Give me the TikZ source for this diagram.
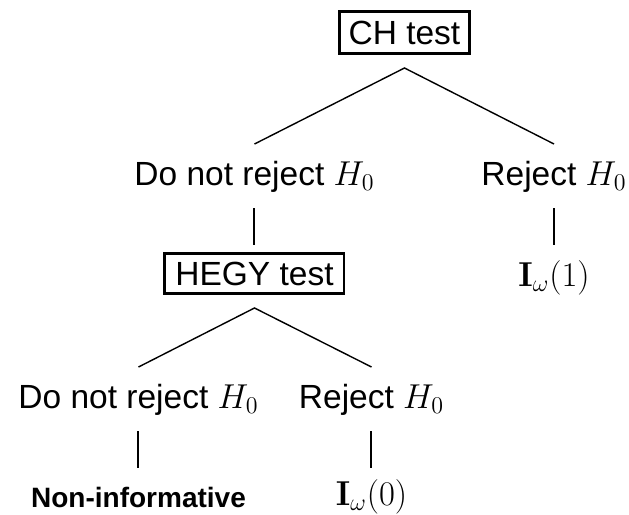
\documentclass[tikz,border=0pt]{standalone}
\usepackage[no-math]{fontspec}
\setmainfont{Liberation Sans}
\usepackage{tikz}
\usetikzlibrary{calc}

\tikzset{
  testbox/.style={draw, line width=1.3pt, inner sep=0pt},
  outcome/.style={inner sep=0pt, anchor=base},
  branch/.style={line width=0.7pt},
  stem/.style={line width=1pt},
}

\begin{document}
\begin{tikzpicture}[x=0.5pt,y=-0.5pt,font=\fontsize{16.75}{20}\selectfont]
  \useasboundingbox (0,0) rectangle (629,515);
  % first test
  \node[testbox,minimum width=65.2pt,minimum height=21.2pt] (ch) at (404.5,32.5) {CH test};
  \node[outcome] (dnr1) at (254.5,185) {Do not reject $H_0$};
  \node[outcome] (rej1) at (554,185) {Reject $H_0$};
  \coordinate (chfork) at ([yshift=-6.5pt]ch.south);
  \draw[branch] ([yshift=20.5pt]dnr1.base) -- (chfork) -- ([yshift=20.5pt]rej1.base);
  % second test
  \node[testbox,minimum width=89.7pt,minimum height=20.2pt] (hegy) at (254.5,273.5) {HEGY test};
  \node[outcome] (iw1) at (554,286) {$\mathbf{I}_\omega(1)$};
  \draw[stem] ([yshift=-11.5pt]dnr1.base) -- ([yshift=3.5pt]hegy.north);
  \draw[stem] ([yshift=-11.5pt]rej1.base) -- ([yshift=20.5pt]iw1.base);
  \node[outcome] (dnr2) at (138.5,408) {Do not reject $H_0$};
  \node[outcome] (rej2) at (371.5,408) {Reject $H_0$};
  \coordinate (hegyfork) at ([yshift=-6.5pt]hegy.south);
  \draw[branch] ([yshift=20.5pt]dnr2.base) -- (hegyfork) -- ([yshift=20.5pt]rej2.base);
  % outcomes
  \node[outcome,font=\bfseries\fontsize{14}{16}\selectfont] (noninf) at (138.5,507) {Non-informative};
  \node[outcome] (iw0) at (371.5,505) {$\mathbf{I}_\omega(0)$};
  \draw[stem] ([yshift=-11.5pt]dnr2.base) -- ([yshift=19.5pt]noninf.base);
  \draw[stem] ([yshift=-11.5pt]rej2.base) -- ([yshift=18.5pt]iw0.base);
\end{tikzpicture}
\end{document}
